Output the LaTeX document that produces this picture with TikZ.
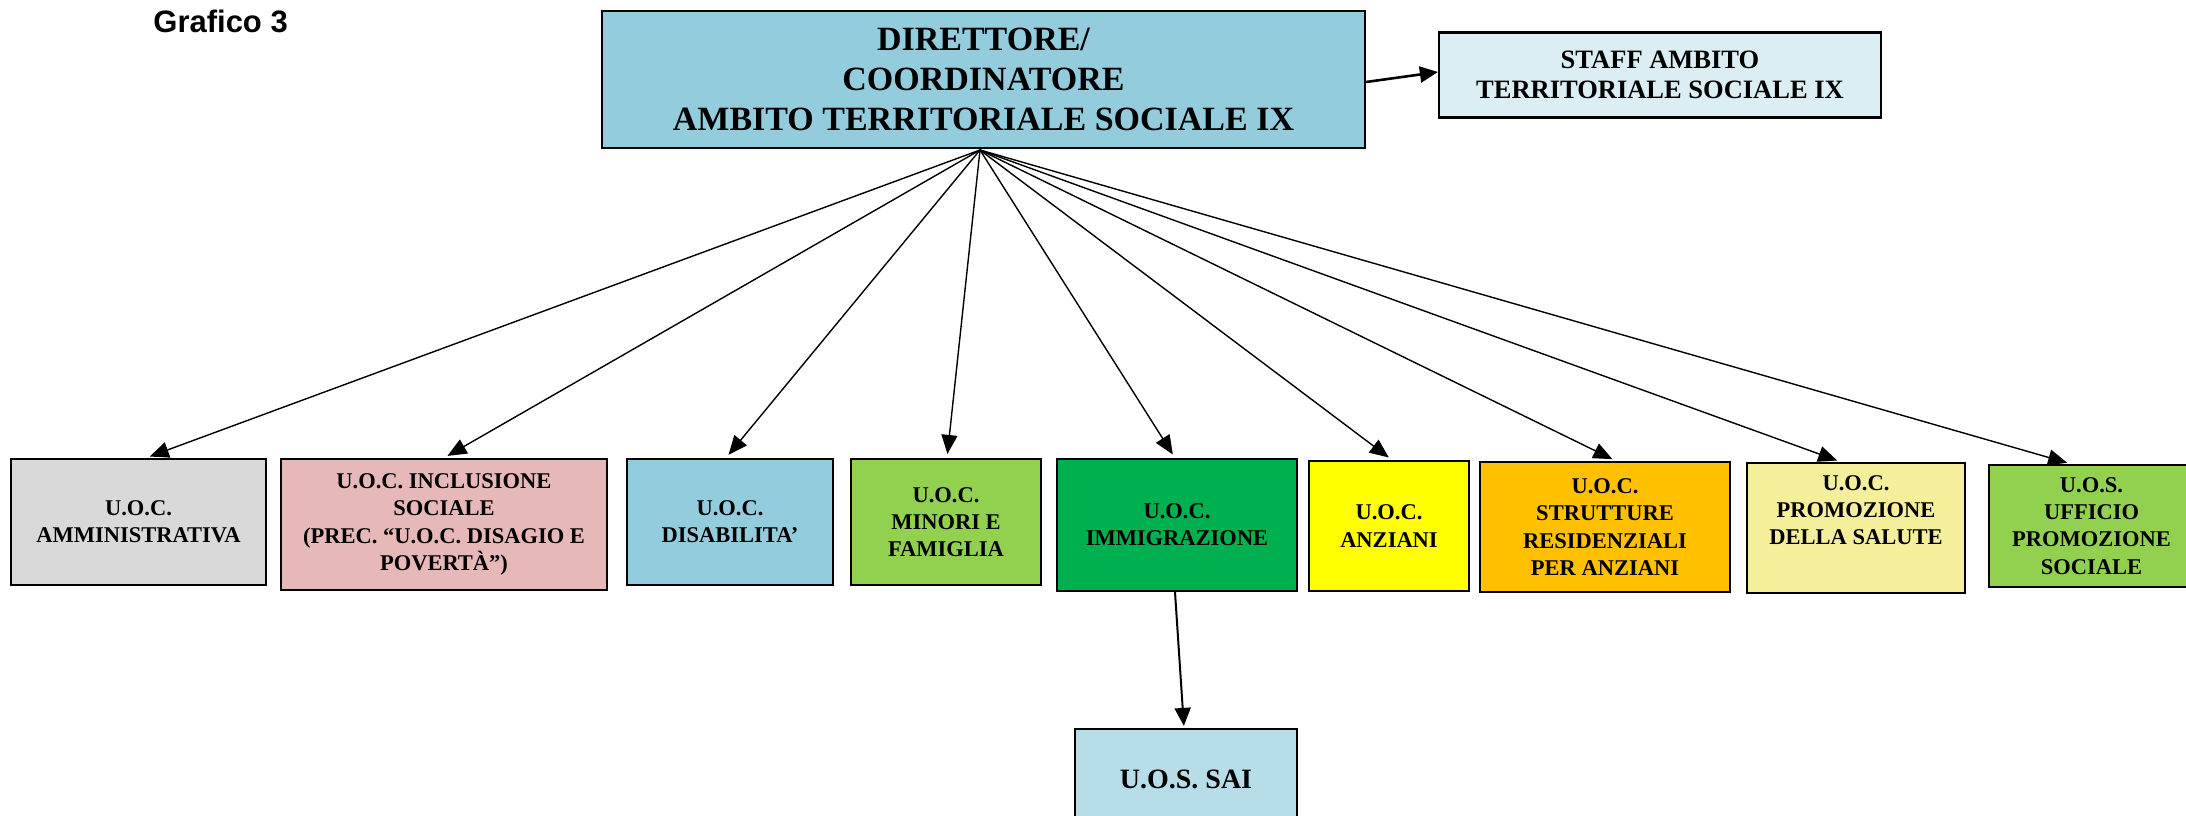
\documentclass[tikz,border=0pt]{standalone}
\usepackage{fontspec}
\setmainfont{Liberation Serif}
\newfontfamily\arialfont{Liberation Sans}
\usetikzlibrary{arrows.meta,calc}
\definecolor{cTop}{HTML}{93CDDD}
\definecolor{cStaff}{HTML}{DBEEF4}
\definecolor{cAmm}{HTML}{D9D9D9}
\definecolor{cIncl}{HTML}{E6B8B7}
\definecolor{cDis}{HTML}{93CDDD}
\definecolor{cMin}{HTML}{92D050}
\definecolor{cImm}{HTML}{00B050}
\definecolor{cAnz}{HTML}{FFFF00}
\definecolor{cStr}{HTML}{FFC000}
\definecolor{cProm}{HTML}{F5EE9B}
\definecolor{cUff}{HTML}{92D050}
\definecolor{cSai}{HTML}{B7DEE8}
\tikzset{
  bx/.style 2 args={draw=black,line width=1.1pt,inner sep=0pt,align=center,
    minimum width=#1*0.5pt,minimum height=#2*0.5pt},
  unitfont/.style={font=\bfseries\fontsize{11.25}{13.6}\selectfont},
  fan/.style={line width=0.7pt,shorten >=2pt,-{Triangle[length=9.5pt,width=8pt]}},
  bigarrow/.style={line width=1.3pt,-{Triangle[length=9pt,width=8pt]}},
  midarrow/.style={line width=1pt,shorten >=1pt,-{Triangle[length=9pt,width=8pt]}}
}
\begin{document}
\begin{tikzpicture}[x=0.5pt,y=-0.5pt]
\useasboundingbox (0,0) rectangle (2186,815);
\node[anchor=base west,inner sep=0pt,font=\arialfont\bfseries\fontsize{15.5}{18}\selectfont] (title) at (153,32) {Grafico 3};

\node[bx={763}{137},fill=cTop,font=\bfseries\fontsize{17}{19.8}\selectfont] (top) at (983.5,79.5)
  {DIRETTORE/\\COORDINATORE\\AMBITO TERRITORIALE SOCIALE IX};
\node[bx={442}{85},fill=cStaff,font=\bfseries\fontsize{13.25}{15}\selectfont] (staff) at (1660,75)
  {STAFF AMBITO\\TERRITORIALE SOCIALE IX};

\node[bx={255}{126},fill=cAmm,unitfont] (b1) at (138.5,522) {U.O.C.\\AMMINISTRATIVA};
\node[bx={326}{131},fill=cIncl,unitfont] (b2) at (444,524.5) {U.O.C. INCLUSIONE\\SOCIALE\\(PREC. “U.O.C. DISAGIO E\\POVERTÀ”)};
\node[bx={206}{126},fill=cDis,unitfont] (b3) at (730,522) {U.O.C.\\DISABILITA’};
\node[bx={190}{126},fill=cMin,unitfont] (b4) at (946,522) {U.O.C.\\MINORI E\\FAMIGLIA};
\node[bx={240}{132},fill=cImm,unitfont] (b5) at (1177,525) {U.O.C.\\IMMIGRAZIONE};
\node[bx={160}{130},fill=cAnz,unitfont] (b6) at (1389,526) {U.O.C.\\ANZIANI};
\node[bx={250}{130},fill=cStr,unitfont] (b7) at (1605,527) {U.O.C.\\STRUTTURE\\RESIDENZIALI\\PER ANZIANI};
\node[bx={218}{130},fill=cProm,unitfont] (b8) at (1856,528) {U.O.C.\\PROMOZIONE\\DELLA SALUTE\\\strut};
\node[bx={205}{122},fill=cUff,unitfont] (b9) at (2091.5,526) {U.O.S.\\UFFICIO\\PROMOZIONE\\SOCIALE};
\node[bx={222}{101},fill=cSai,font=\bfseries\fontsize{14}{16}\selectfont] (sai) at (1186,779.5) {U.O.S. SAI};

\coordinate (o) at (980,150);
\draw[bigarrow] ($(top.east)+(0,2.5)$) -- ($(staff.west)+(0,-3)$);
\draw[fan] (o) -- ($(b1.north)+(7.5,0)$);
\draw[fan] (o) -- (b2.north);
\draw[fan] (o) -- ($(b3.north)+(-4,0)$);
\draw[fan] (o) -- ($(b4.north)+(1,0)$);
\draw[fan] (o) -- ($(b5.north)+(-2,0)$);
\draw[fan] (o) -- ($(b6.north)+(3,0)$);
\draw[fan] (o) -- ($(b7.north)+(11,0)$);
\draw[fan] (o) -- ($(b8.north)+(-15,0)$);
\draw[fan] (o) -- ($(b9.north)+(-20.5,0)$);
\draw[midarrow] ($(b5.south)+(-2,0)$) -- ($(sai.north)+(-2,0)$);
\end{tikzpicture}
\end{document}
